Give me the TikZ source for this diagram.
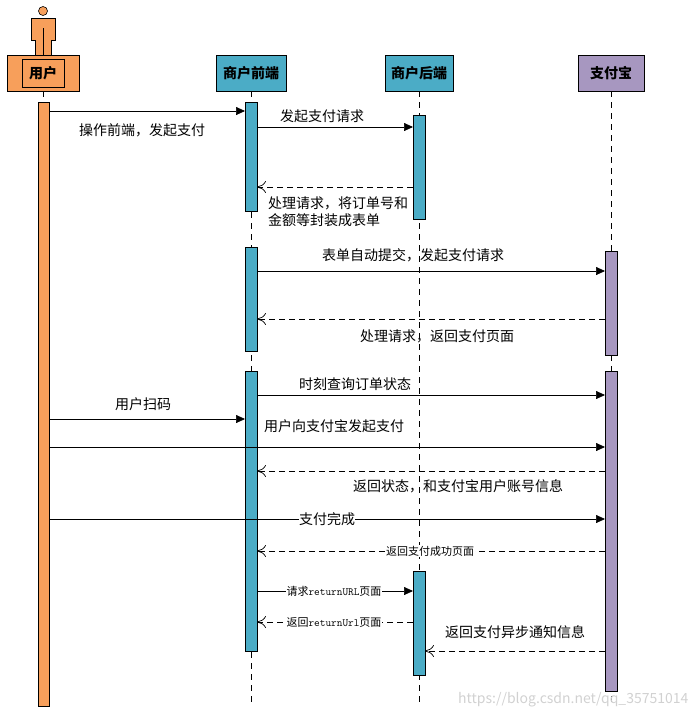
\documentclass[tikz,border=0pt]{standalone}
\usepackage{fontspec}
\setmainfont{Noto Sans CJK SC}
\usetikzlibrary{arrows.meta}
\definecolor{uor}{HTML}{F79F5B}
\definecolor{ubl}{HTML}{4BACC6}
\definecolor{upu}{HTML}{A797C0}
\begin{document}
\begin{tikzpicture}[x=1pt,y=-1pt,
 hdr/.style={draw=black,line width=0.8pt,minimum height=36pt,font=\bfseries\fontsize{14}{16}\selectfont,inner sep=0pt},
 bar/.style={draw=black,line width=0.6pt},
 life/.style={dash pattern=on 6pt off 5pt,line width=0.6pt},
 msg/.style={line width=0.7pt,-{Triangle[length=9pt,width=8pt]}},
 ret/.style={line width=0.7pt,dash pattern=on 6pt off 4pt,-{To[length=9pt,width=12pt]}},
 lbl/.style={font=\fontsize{14}{17}\selectfont,inner sep=1pt},
 sml/.style={font=\fontsize{11}{12}\selectfont,fill=white,inner sep=0.5pt}]
\useasboundingbox (0,0) rectangle (693,718);
% lifelines
\foreach \x in {43,251,419,611} \draw[life] (\x,91) -- (\x,706);
% person
\draw[fill=uor,line width=0.6pt] (43,11) circle (4.5);
\draw[fill=uor,line width=0.6pt] (31,18) -- (55,18) -- (55,40) -- (51,40) -- (51,55) -- (35,55) -- (35,40) -- (31,40) -- cycle;
\draw[line width=0.6pt] (43,28) -- (43,55);
% headers
\node[hdr,fill=uor,minimum width=72pt] (user) at (43,73) {};
\node[draw=black,line width=0.6pt,minimum width=42pt,minimum height=28pt,inner sep=0pt,font=\bfseries\fontsize{14}{16}\selectfont] at (43,73) {用户};
\node[hdr,fill=ubl,minimum width=70pt] (front) at (251,73) {商户前端};
\node[hdr,fill=ubl,minimum width=68pt] (back) at (419,73) {商户后端};
\node[hdr,fill=upu,minimum width=66pt] (ali) at (611,73) {支付宝};
% bars
\draw[bar,fill=uor] (38,102) rectangle (49,706);
\draw[bar,fill=ubl] (245,102) rectangle (257,211);
\draw[bar,fill=ubl] (245,247) rectangle (257,351);
\draw[bar,fill=ubl] (245,371) rectangle (257,651);
\draw[bar,fill=ubl] (413,115) rectangle (425,219);
\draw[bar,fill=ubl] (413,571) rectangle (425,675);
\draw[bar,fill=upu] (605,251) rectangle (617,355);
\draw[bar,fill=upu] (605,371) rectangle (617,691);
% coordinates
\foreach \n/\y in {1/111,7/419,8/447,10/519} {\coordinate (u\n) at (49,\y);}
\coordinate (f1) at (245,111); \coordinate (f7) at (245,419);
\foreach \n/\y in {2/127,3/187,4/271,5/319,6/395,9/471,11/551,12/591,13/622} {\coordinate (fr\n) at (257,\y);}
\foreach \n/\y in {2/127,3/187,12/591,13/622} {\coordinate (b\n) at (413,\y);}
\coordinate (br14) at (425,651);
\foreach \n/\y in {4/271,5/319,6/395,8/447,9/471,10/519,11/551,14/651} {\coordinate (a\n) at (605,\y);}
% messages
\draw[msg] (u1) -- (f1);
\node[lbl] (l1) at (142,130) {操作前端，发起支付};
\draw[msg] (fr2) -- (b2);
\node[lbl] (l2) at (322,116) {发起支付请求};
\draw[ret] (b3) -- (fr3);
\node[lbl,align=left] (l3) at (338,212) {处理请求，将订单号和\\金额等封装成表单};
\draw[msg] (fr4) -- (a4);
\node[lbl] (l4) at (413,255) {表单自动提交，发起支付请求};
\draw[ret] (a5) -- (fr5);
\node[lbl] (l5) at (437,336) {处理请求，返回支付页面};
\draw[msg] (fr6) -- (a6);
\node[lbl] (l6) at (355,384) {时刻查询订单状态};
\draw[msg] (u7) -- (f7);
\node[lbl] (l7) at (143,404) {用户扫码};
\draw[msg] (u8) -- (a8);
\node[lbl] (l8) at (334,426) {用户向支付宝发起支付};
\draw[ret] (a9) -- (fr9);
\node[lbl] (l9) at (458,486) {返回状态，和支付宝用户账号信息};
\draw[msg] (u10) -- (a10);
\node[lbl,fill=white,inner sep=0pt] (l10) at (327,519) {支付完成};
\draw[ret] (a11) -- (fr11);
\node[sml] (l11) at (430,551) {返回支付成功页面};
\draw[msg] (fr12) -- (b12);
\node[sml] (l12) at (334,591) {请求{\ttfamily returnURL}页面};
\draw[ret] (b13) -- (fr13);
\node[sml] (l13) at (334,622) {返回{\ttfamily returnUrl}页面};
\draw[ret] (a14) -- (br14);
\node[lbl] (l14) at (515,632) {返回支付异步通知信息};
\node[text=black!18,font=\fontsize{14}{16}\selectfont,anchor=east] (wm) at (692,700) {https://blog.csdn.net/qq\_35751014};
\end{tikzpicture}
\end{document}
